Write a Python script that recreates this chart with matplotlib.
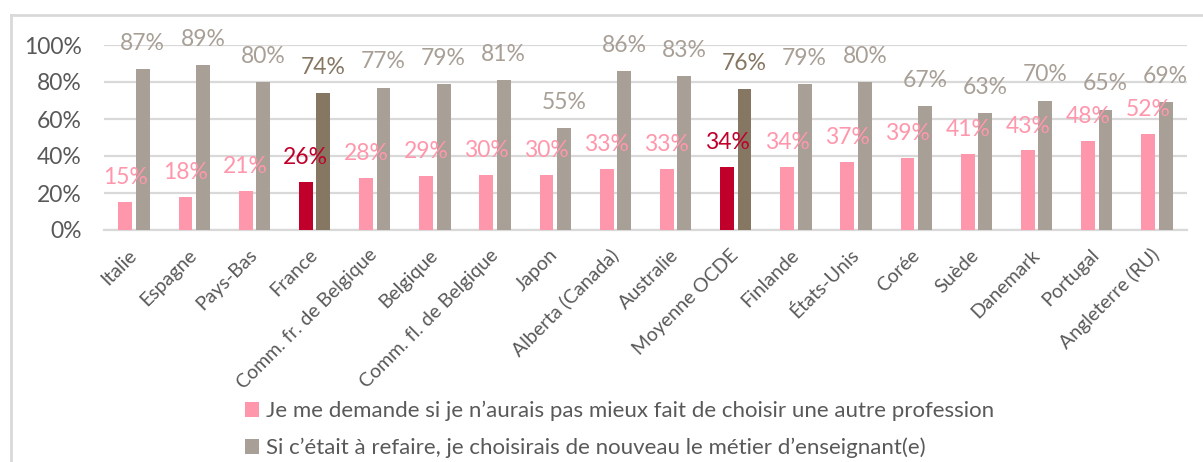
import matplotlib
matplotlib.use("Agg")
import matplotlib.pyplot as plt
from matplotlib.lines import Line2D
import numpy as np

plt.rcParams['font.family'] = ['Lato', 'DejaVu Sans']

categories = ["Italie", "Espagne", "Pays-Bas", "France", "Comm. fr. de Belgique", "Belgique",
              "Comm. fl. de Belgique", "Japon", "Alberta (Canada)", "Australie", "Moyenne OCDE",
              "Finlande", "États-Unis", "Corée", "Suède", "Danemark", "Portugal", "Angleterre (RU)"]
regret = [15, 18, 21, 26, 28, 29, 30, 30, 33, 33, 34, 34, 37, 39, 41, 43, 48, 52]
again = [87, 89, 80, 74, 77, 79, 81, 55, 86, 83, 76, 79, 80, 67, 63, 70, 65, 69]
highlight = ["France", "Moyenne OCDE"]
series_names = ["Je me demande si je n’aurais pas mieux fait de choisir une autre profession",
                "Si c’était à refaire, je choisirais de nouveau le métier d’enseignant(e)"]
yticks = [0, 20, 40, 60, 80, 100]

PINK = "#FF97AC"
GREY = "#A89F96"
RED = "#C0002A"
BROWN = "#857762"
TXT = "#595959"
GRID = "#D9D9D9"

W, H = 1203, 462
fig = plt.figure(figsize=(W / 100, H / 100), dpi=100)
ax = fig.add_axes([104 / W, 1 - 230 / H, (1187 - 104) / W, (230 - 45) / H])

x = np.arange(len(categories))
bw = 0.23
off = 0.145
c1 = [RED if c in highlight else PINK for c in categories]
c2 = [BROWN if c in highlight else GREY for c in categories]
b1 = ax.bar(x - off, regret, bw, color=c1, zorder=3)
b2 = ax.bar(x + off, again, bw, color=c2, zorder=3)

for xi, v, c in zip(x, regret, c1):
    ax.annotate(f"{v}%", (xi - off, v), xytext=(0, 10), textcoords="offset points",
                ha="center", va="bottom", color=c, fontsize=16.5)
for xi, v, c in zip(x, again, c2):
    ax.annotate(f"{v}%", (xi + off, v), xytext=(0, 11), textcoords="offset points",
                ha="center", va="bottom", color=c, fontsize=16.5)

ax.set_xlim(-0.5, len(categories) - 0.5)
ax.set_ylim(0, 100)
ax.set_yticks(yticks)
ax.set_yticklabels([f"{t}%" for t in yticks], fontsize=16.5, color=TXT)
ax.yaxis.grid(True, color=GRID, linewidth=1.6, zorder=0)
ax.set_axisbelow(True)
for s in ["top", "right", "left"]:
    ax.spines[s].set_visible(False)
ax.spines["bottom"].set_color(GRID)
ax.spines["bottom"].set_linewidth(1.6)
ax.tick_params(axis="y", length=0, pad=16)
ax.tick_params(axis="x", length=0, pad=16)
ax.set_xticks(x)
ax.set_xticklabels(categories, rotation=45, ha="right", va="center",
                   rotation_mode="anchor", fontsize=14, color=TXT)

leg = ax.legend(handles=[b1, b2], labels=series_names, loc="upper left",
                bbox_to_anchor=(245 / W, 1 - 401 / H), bbox_transform=fig.transFigure,
                frameon=False, fontsize=16, handlelength=0.65, handleheight=0.65,
                handletextpad=0.3, labelspacing=0.72, borderpad=0, borderaxespad=0)
for t in leg.get_texts():
    t.set_color(TXT)

yb = 1 - 15 / H
fig.add_artist(Line2D([11 / W, 11 / W], [0, yb], transform=fig.transFigure, color=GRID, linewidth=2))
fig.add_artist(Line2D([11 / W, 1], [yb, yb], transform=fig.transFigure, color=GRID, linewidth=2))

fig.savefig("out.png", dpi=100)
